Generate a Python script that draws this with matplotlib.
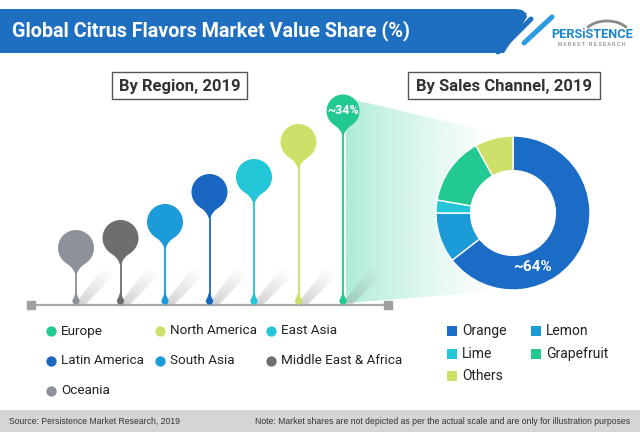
import numpy as np
import matplotlib
matplotlib.use("Agg")
import matplotlib.pyplot as plt
from matplotlib.patches import Polygon, Circle, Rectangle, Arc, PathPatch
from matplotlib.path import Path
from matplotlib import font_manager as fm

# ---------------- data ----------------
regions = ["Oceania", "Middle East & Africa", "South Asia", "Latin America",
           "East Asia", "North America", "Europe"]
region_heights = [57, 67, 83, 113, 128, 163, 194]   # relative pin heights (not to scale)
region_colors = ["#8E9199", "#6E6E6E", "#1C9BD9", "#1A67C1",
                 "#22C6D6", "#CFE06A", "#22C993"]
europe_label = "~34%"

channels = ["Orange", "Lemon", "Lime", "Grapefruit", "Others"]
channel_share = [64.5, 10.5, 2.7, 14.3, 8.0]
channel_colors = ["#1A6CC6", "#1C9BD9", "#22C6D6", "#22C993", "#CFE06A"]
orange_label = "~64%"

legend_regions = [["Europe", "North America", "East Asia"],
                  ["Latin America", "South Asia", "Middle East & Africa"],
                  ["Oceania"]]
legend_channels = [["Orange", "Lemon"], ["Lime", "Grapefruit"], ["Others"]]

title = "Global Citrus Flavors Market Value Share (%)"
sub_left = "By Region, 2019"
sub_right = "By Sales Channel, 2019"
source = "Source: Persistence Market Research, 2019"
note = "Note: Market shares are not depicted as per the actual scale and are only for illustration purposes"

# ---------------- fonts ----------------
names = {f.name for f in fm.fontManager.ttflist}
NARROW = "Liberation Sans Narrow" if "Liberation Sans Narrow" in names else "Roboto"
PLAIN = "Liberation Sans" if "Liberation Sans" in names else "DejaVu Sans"

# ---------------- figure ----------------
fig = plt.figure(figsize=(6.4, 4.32), dpi=100)
ax = fig.add_axes([0, 0, 1, 1])
ax.set_xlim(0, 640)
ax.set_ylim(432, 0)
ax.axis("off")


def grad_poly(pts, color, a0, a1, p0, p1, zorder=1, gamma=1.0, side_fade=False):
    pts = np.asarray(pts, float)
    poly = Polygon(pts, closed=True, fc="none", ec="none")
    ax.add_patch(poly)
    x0, x1 = pts[:, 0].min(), pts[:, 0].max()
    y0, y1 = pts[:, 1].min(), pts[:, 1].max()
    nx, ny = 120, 120
    gx, gy = np.meshgrid(np.linspace(x0, x1, nx), np.linspace(y0, y1, ny))
    d = np.array(p1, float) - np.array(p0, float)
    t = ((gx - p0[0]) * d[0] + (gy - p0[1]) * d[1]) / (d @ d)
    t = np.clip(t, 0, 1) ** gamma
    a = a0 + (a1 - a0) * t
    if side_fade:
        # fade perpendicular to the main direction (soft edges)
        n = np.array([-d[1], d[0]]) / np.hypot(*d)
        s = (gx - p0[0]) * n[0] + (gy - p0[1]) * n[1]
        w = np.abs(s - np.median(s)) / (np.abs(s - np.median(s)).max() + 1e-9)
        a = a * np.clip(1 - w, 0, 1) ** 0.7
    rgba = np.zeros((ny, nx, 4))
    rgba[..., :3] = matplotlib.colors.to_rgb(color)
    rgba[..., 3] = a
    im = ax.imshow(rgba, extent=(x0, x1, y1, y0), origin="upper",
                   aspect="auto", zorder=zorder, interpolation="bilinear")
    im.set_clip_path(poly)


# ---------------- title banner ----------------
banner = [(0, 9), (516, 9), (522, 10), (526, 13), (527, 17), (504, 53), (0, 53)]
ax.add_patch(Polygon(banner, closed=True, fc="#1F6FC1", ec="none", zorder=2))
ax.text(12, 31, title, color="white", fontsize=14.2, fontweight="bold",
        family=NARROW, va="center", ha="left", zorder=3)
ax.plot([498, 531], [52, 19], color="#1F6FC1", lw=3.6, solid_capstyle="round", zorder=3)
ax.plot([524, 552], [43, 17], color="#2B9BE0", lw=3.6, solid_capstyle="round", zorder=3)

# logo
ax.add_patch(Arc((607, 35), 46, 28, theta1=200, theta2=340, color="#8A8A8A", lw=2.0, zorder=3))
ax.text(592, 34, "PERSiSTENCE", color="#1C86D0", fontsize=9.2, fontweight="bold",
        family=NARROW, ha="center", va="center", zorder=4)
ax.text(592, 44.5, "M A R K E T   R E S E A R C H", color="#666666", fontsize=3.6,
        family=PLAIN, ha="center", va="center", zorder=4)

# ---------------- subtitle boxes ----------------
for (x0, x1), txt in [((112, 247), sub_left), ((408, 600), sub_right)]:
    ax.add_patch(Rectangle((x0, 72), x1 - x0, 27, fc="white", ec="#555555", lw=1, zorder=3))
    ax.text((x0 + x1) / 2, 86, txt, color="#333333", fontsize=12, fontweight="bold",
            family=NARROW, ha="center", va="center", zorder=4)

# ---------------- funnel ----------------
base_y = 305
grad_poly([(346, 98), (513, 137), (513, 290), (346, 303)], "#9DE8D0", 0.85, 0.0,
          (346, 0), (495, 0), zorder=1, gamma=0.8)

# ---------------- baseline ----------------
ax.plot([31, 388], [base_y, base_y], color="#A8A8A8", lw=1.6, zorder=2)
ax.scatter([31, 388], [base_y, base_y], marker="s", s=30, color="#A0A0A0", zorder=3)

# ---------------- pins ----------------
x_first, spacing = 76, 44.5
for i, (h, c) in enumerate(zip(region_heights, region_colors)):
    x = x_first + i * spacing
    r = 16.5 if i == len(region_heights) - 1 else 18
    yc = base_y - h
    # soft shadow
    grad_poly([(x - 1, base_y - 1), (x + 10, base_y - 1), (x + 44, base_y - 36), (x + 26, base_y - 36)],
              "#8F8F8F", 0.42, 0.0, (x + 3, base_y), (x + 36, base_y - 34), zorder=1.5,
              gamma=0.9, side_fade=True)
    # stem
    ax.plot([x, x], [yc + r, base_y - 4], color=c, lw=1.3, zorder=3)
    # head (teardrop)
    phi = np.deg2rad(38)
    tip = yc + 1.45 * r
    lx, ly = x - r * np.sin(phi), yc + r * np.cos(phi)
    rx = x + r * np.sin(phi)
    verts = [(lx, ly), (x - 2.5, yc + 1.08 * r), (x - 0.8, tip),
             (x + 0.8, tip), (x + 2.5, yc + 1.08 * r), (rx, ly), (lx, ly)]
    codes = [Path.MOVETO, Path.CURVE3, Path.CURVE3, Path.LINETO,
             Path.CURVE3, Path.CURVE3, Path.CLOSEPOLY]
    ax.add_patch(PathPatch(Path(verts, codes), fc=c, ec="none", zorder=4))
    ax.add_patch(Circle((x, yc), r, fc=c, ec="none", zorder=4))
    # base drop
    by = base_y - 4
    ax.add_patch(Circle((x, by), 3.6, fc=c, ec="none", zorder=4))
    dv = [(x - 2.8, by - 2.2), (x - 0.8, by - 6), (x, by - 11), (x + 0.8, by - 6), (x + 2.8, by - 2.2), (x - 2.8, by - 2.2)]
    dc = [Path.MOVETO, Path.CURVE3, Path.CURVE3, Path.CURVE3, Path.CURVE3, Path.CLOSEPOLY]
    ax.add_patch(PathPatch(Path(dv, dc), fc=c, ec="none", zorder=4))
    if i == len(region_heights) - 1:
        ax.text(x, yc, europe_label, color="white", fontsize=9, fontweight="bold",
                family=NARROW, ha="center", va="center", zorder=5)

# ---------------- donut ----------------
cx, cy, R = 513, 213, 77
dax = fig.add_axes([(cx - R) / 640, (432 - cy - R) / 432, 2 * R / 640, 2 * R / 432])
dax.add_patch(Circle((0, 0), 0.56, fc="white", ec="none", zorder=0))
dax.pie(channel_share, colors=channel_colors, startangle=90, counterclock=False,
        radius=1, wedgeprops=dict(width=0.45, edgecolor="white", linewidth=1))
dax.set_xlim(-1, 1)
dax.set_ylim(-1, 1)
dax.set_aspect("equal")
dax.axis("off")
dax.text(0.25, -0.70, orange_label, color="white", fontsize=11, fontweight="bold",
         family=NARROW, ha="center", va="center")

# ---------------- legends ----------------
col_x = [51, 160, 271]
row_y = [331, 361, 391]
cmap = dict(zip(regions, region_colors))
for r_i, row in enumerate(legend_regions):
    for c_i, name in enumerate(row):
        ax.scatter([col_x[c_i]], [row_y[r_i]], s=55, marker="o", color=cmap[name],
                   linewidths=0, zorder=5)
        ax.text(col_x[c_i] + 10, row_y[r_i], name, fontsize=9.7, family=NARROW,
                color="#222222", ha="left", va="center")

sq_x = [452, 536]
sq_y = [331, 354, 376]
chmap = dict(zip(channels, channel_colors))
for r_i, row in enumerate(legend_channels):
    for c_i, name in enumerate(row):
        ax.scatter([sq_x[c_i]], [sq_y[r_i]], s=55, marker="s", color=chmap[name],
                   linewidths=0, zorder=5)
        ax.text(sq_x[c_i] + 10, sq_y[r_i], name, fontsize=10, family=NARROW,
                color="#222222", ha="left", va="center")

# ---------------- footer ----------------
ax.add_patch(Rectangle((0, 410), 640, 22, fc="#D5D5D5", ec="none", zorder=1))
ax.text(9, 421, source, fontsize=6.2, family=PLAIN, color="#333333", ha="left", va="center")
ax.text(630, 421, note, fontsize=6.2, family=PLAIN, color="#333333", ha="right", va="center")

ax.set_xlim(0, 640)
ax.set_ylim(432, 0)
fig.savefig("out.png", dpi=100)
